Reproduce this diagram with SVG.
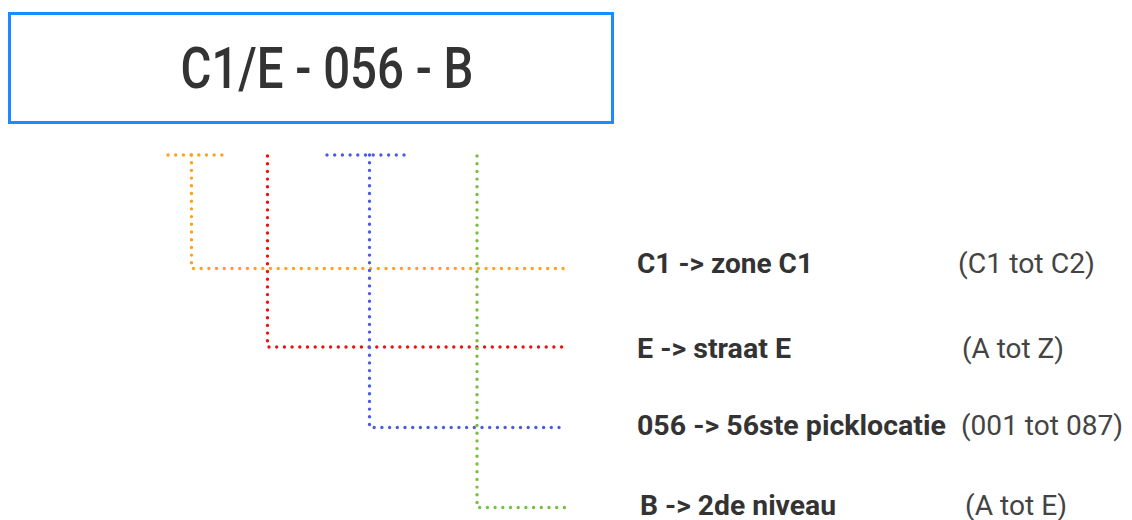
<svg xmlns="http://www.w3.org/2000/svg" width="1132" height="520" viewBox="0 0 1132 520">
  <style>
    .code { font-family: "Roboto", "Liberation Sans", sans-serif; font-size: 57px; font-weight: 500; fill: #333333; }
    .key { font-family: "Roboto", "Liberation Sans", sans-serif; font-size: 28px; font-weight: bold; fill: #333333; }
    .range { font-family: "Roboto", "Liberation Sans", sans-serif; font-size: 28px; fill: #444444; }
    .dot { fill: none; stroke-width: 3.4; stroke-linecap: round; stroke-dasharray: 0 7.7; }
    .orange { stroke: #ffa11f; }
    .red { stroke: #ee1111; }
    .blue { stroke: #4a5ce6; }
    .green { stroke: #76c043; }
  </style>
  <rect width="1132" height="520" fill="#ffffff"/>

  <!-- location code box -->
  <g id="code-box">
    <rect x="9.5" y="13.5" width="603" height="109" fill="#ffffff" stroke="#1a8cff" stroke-width="3"/>
    <text class="code" x="327" y="88" text-anchor="middle" textLength="293" lengthAdjust="spacingAndGlyphs">C1/E - 056 - B</text>
  </g>

  <!-- dotted brackets linking each code part to its meaning -->
  <g id="connectors">
    <path class="dot orange" d="M168 155 H222"/>
    <path class="dot orange" d="M191.5 155 V268.5 H565"/>
    <path class="dot red" d="M267.5 156 V347 H565"/>
    <path class="dot blue" d="M327 155 H411"/>
    <path class="dot blue" d="M369.5 155 V427.5 H565"/>
    <path class="dot green" d="M477 156 V507.5 H567"/>
  </g>

  <g id="zone">
    <text class="key" x="637" y="273" textLength="176" lengthAdjust="spacingAndGlyphs">C1 -&gt; zone C1</text>
    <text class="range" x="958" y="273" textLength="137" lengthAdjust="spacingAndGlyphs">(C1 tot C2)</text>
  </g>
  <g id="straat">
    <text class="key" x="637" y="358" textLength="154" lengthAdjust="spacingAndGlyphs">E -&gt; straat E</text>
    <text class="range" x="962" y="358" textLength="102" lengthAdjust="spacingAndGlyphs">(A tot Z)</text>
  </g>
  <g id="picklocatie">
    <text class="key" x="637" y="435" textLength="309" lengthAdjust="spacingAndGlyphs">056 -&gt; 56ste picklocatie</text>
    <text class="range" x="961" y="435" textLength="162" lengthAdjust="spacingAndGlyphs">(001 tot 087)</text>
  </g>
  <g id="niveau">
    <text class="key" x="640" y="515" textLength="196" lengthAdjust="spacingAndGlyphs">B -&gt; 2de niveau</text>
    <text class="range" x="965" y="515" textLength="102" lengthAdjust="spacingAndGlyphs">(A tot E)</text>
  </g>
</svg>
